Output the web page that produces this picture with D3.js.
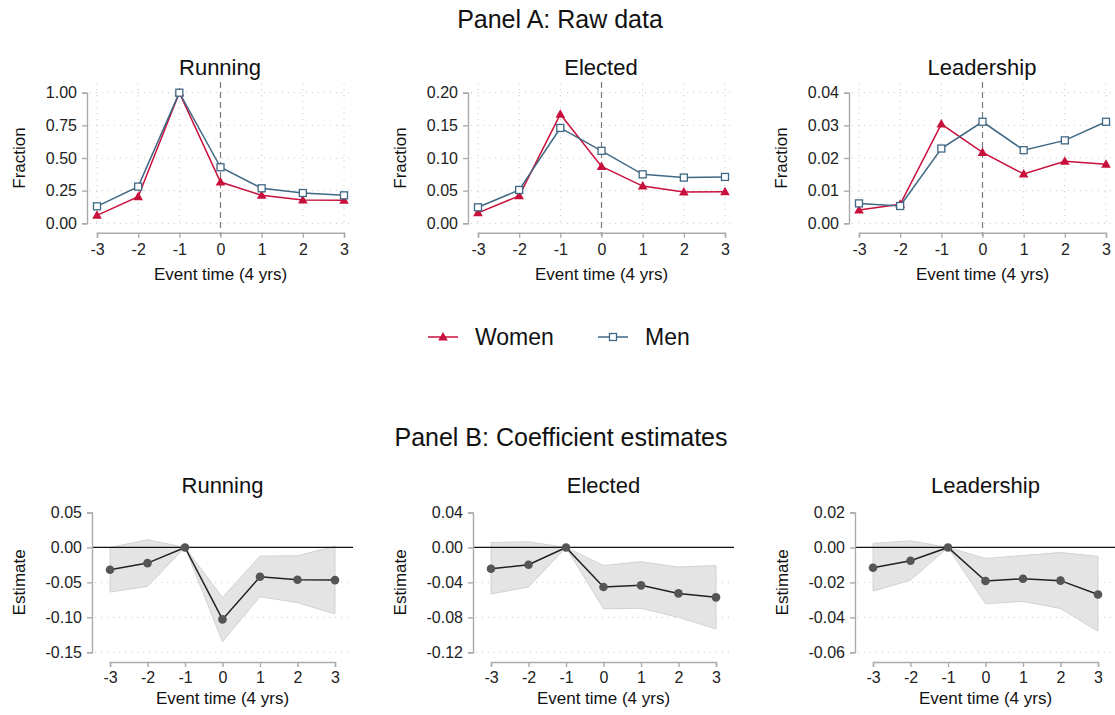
<!DOCTYPE html>
<html>
<head>
<meta charset="utf-8">
<script src="https://cdn.jsdelivr.net/npm/d3@7"></script>
<style>
  body { margin: 0; background: #fff; }
  svg { font-family: "Liberation Sans", Arial, sans-serif; }
  .axis path, .axis line { stroke: #ababab; stroke-width: 1.4; }
  .axis text { fill: #222; font-size: 16px; }
  .grid { stroke: #c8c8c8; stroke-width: 1; stroke-dasharray: 1,5; }
</style>
</head>
<body>
<div class="vis-holder"></div>
<script>
// event time categories
var eventTime = [-3, -2, -1, 0, 1, 2, 3];

// panel A raw data
var runWomen  = [0.061, 0.204, 1.000, 0.316, 0.214, 0.179, 0.176];
var runMen    = [0.130, 0.281, 1.000, 0.429, 0.268, 0.232, 0.214];
var elecWomen = [0.016, 0.042, 0.167, 0.087, 0.057, 0.048, 0.0485];
var elecMen   = [0.0245, 0.051, 0.146, 0.111, 0.075, 0.070, 0.071];
var leadWomen = [0.0041, 0.0058, 0.0304, 0.0217, 0.0151, 0.0190, 0.0181];
var leadMen   = [0.0061, 0.0053, 0.0229, 0.0311, 0.0224, 0.0254, 0.0311];

// panel B coefficient estimates with confidence bands
var runEst  = [-0.0319, -0.0224, 0, -0.1029, -0.0419, -0.0462, -0.0467];
var runLo   = [-0.0638, -0.0557, 0, -0.1348, -0.0705, -0.0790, -0.0952];
var runHi   = [0.0000, 0.0110, 0, -0.0714, -0.0124, -0.0119, 0.0019];
var elecEst = [-0.0244, -0.0198, 0, -0.0453, -0.0434, -0.0526, -0.0571];
var elecLo  = [-0.0533, -0.0453, 0, -0.0701, -0.0697, -0.0800, -0.0933];
var elecHi  = [0.0057, 0.0065, 0, -0.0206, -0.0164, -0.0225, -0.0206];
var leadEst = [-0.0116, -0.0076, 0, -0.0192, -0.0179, -0.0190, -0.0269];
var leadLo  = [-0.0250, -0.0187, 0, -0.0322, -0.0309, -0.0349, -0.0480];
var leadHi  = [0.0023, 0.0038, 0, -0.0063, -0.0046, -0.0029, -0.0051];

// tick labels
var runTicksA  = [0, 0.25, 0.5, 0.75, 1];
var elecTicksA = [0, 0.05, 0.1, 0.15, 0.2];
var leadTicksA = [0, 0.01, 0.02, 0.03, 0.04];
var runTicksB  = [-0.15, -0.1, -0.05, 0, 0.05];
var elecTicksB = [-0.12, -0.08, -0.04, 0, 0.04];
var leadTicksB = [-0.06, -0.04, -0.02, 0, 0.02];

var titles = ["Running", "Elected", "Leadership"];

var width = 1115;
var height = 715;

var women = "#c8103c";
var men = "#3f6884";

// hyphen minus like the original
var loc = d3.formatLocale({decimal: ".", thousands: ",", grouping: [3], currency: ["", ""], minus: "-"});
var f2 = loc.format(".2f");
var f0 = loc.format("d");

var svg = d3.select(".vis-holder")
      .append('svg')
      .attr('width', width)
      .attr('height', height);

svg.append("text")
    .attr("x", 560).attr("y", 28)
    .style("text-anchor", "middle").style("font-size", "25px").attr("fill", "#111")
    .text("Panel A: Raw data");

svg.append("text")
    .attr("x", 561).attr("y", 446)
    .style("text-anchor", "middle").style("font-size", "25px").attr("fill", "#111")
    .text("Panel B: Coefficient estimates");

var panelA = [
  {w: runWomen, m: runMen, ticks: runTicksA},
  {w: elecWomen, m: elecMen, ticks: elecTicksA},
  {w: leadWomen, m: leadMen, ticks: leadTicksA}
];
var axisXA = [87, 468, 849];

function triangle(g, x, y, color) {
  g.append("path")
    .attr("d", "M" + x + "," + (y - 5) + "L" + (x + 4.8) + "," + (y + 3.5) + "L" + (x - 4.8) + "," + (y + 3.5) + "Z")
    .attr("fill", color);
}
function square(g, x, y, color) {
  g.append("rect")
    .attr("x", x - 3.5).attr("y", y - 3.5)
    .attr("width", 7).attr("height", 7)
    .attr("fill", "#fff").attr("stroke", color).attr("stroke-width", 1.3);
}

panelA.forEach(function(p, i) {
  var ax = axisXA[i];
  var g = svg.append("g");
  var xScale = d3.scaleLinear().domain([-3, 3]).range([ax + 10, ax + 257]);
  var yScale = d3.scaleLinear().domain([0, d3.max(p.ticks)]).range([223.3, 92.7]);

  // grid
  g.selectAll(".hgrid").data(p.ticks).enter().append("line")
    .attr("class", "grid")
    .attr("x1", ax + 3).attr("x2", ax + 262)
    .attr("y1", function(d){ return yScale(d); })
    .attr("y2", function(d){ return yScale(d); });
  g.selectAll(".vgrid").data(eventTime.filter(function(d){ return d !== 0; })).enter().append("line")
    .attr("class", "grid")
    .attr("x1", function(d){ return xScale(d); })
    .attr("x2", function(d){ return xScale(d); })
    .attr("y1", 83).attr("y2", 224);

  // event line
  g.append("line")
    .attr("x1", xScale(0)).attr("x2", xScale(0))
    .attr("y1", 82).attr("y2", 236)
    .attr("stroke", "#7a7a7a").attr("stroke-width", 1.2)
    .attr("stroke-dasharray", "6,4");

  var yAxis = d3.axisLeft(yScale).tickValues(p.ticks).tickFormat(f2)
      .tickSizeOuter(0).tickSize(5).tickPadding(5);
  g.append('g').attr('class', 'axis')
    .attr('transform', 'translate(' + ax + ',0)')
    .call(yAxis);

  var xAxis = d3.axisBottom(xScale).tickValues(eventTime).tickFormat(f0)
      .tickSizeOuter(0).tickSize(5).tickPadding(6);
  g.append('g').attr('class', 'axis')
    .attr('transform', 'translate(0,232.7)')
    .call(xAxis);

  var line = d3.line()
      .x(function(d, j){ return xScale(eventTime[j]); })
      .y(function(d){ return yScale(d); });

  g.append("path").attr("d", line(p.w))
    .attr("fill", "none").attr("stroke", women).attr("stroke-width", 1.5);
  p.w.forEach(function(v, j){ triangle(g, xScale(eventTime[j]), yScale(v), women); });

  g.append("path").attr("d", line(p.m))
    .attr("fill", "none").attr("stroke", men).attr("stroke-width", 1.5);
  p.m.forEach(function(v, j){ square(g, xScale(eventTime[j]), yScale(v), men); });

  g.append("text")
    .attr("x", ax + 133).attr("y", 75)
    .style("text-anchor", "middle").style("font-size", "22px").attr("fill", "#111")
    .text(titles[i]);

  g.append("text")
    .attr("x", ax + 133.5).attr("y", 280)
    .style("text-anchor", "middle").style("font-size", "17px").attr("fill", "#111")
    .text("Event time (4 yrs)");

  g.append("text")
    .attr("transform", "translate(" + (ax - 62) + ",158) rotate(-90)")
    .style("text-anchor", "middle").style("font-size", "17px").attr("fill", "#111")
    .text("Fraction");
});

// legend
var lg = svg.append("g");
lg.append("line").attr("x1", 428).attr("x2", 458).attr("y1", 337).attr("y2", 337)
  .attr("stroke", women).attr("stroke-width", 1.5);
triangle(lg, 443, 337, women);
lg.append("text").attr("x", 475).attr("y", 345).style("font-size", "23px").attr("fill", "#111").text("Women");
lg.append("line").attr("x1", 598).attr("x2", 628).attr("y1", 337).attr("y2", 337)
  .attr("stroke", men).attr("stroke-width", 1.5);
square(lg, 613, 337, men);
lg.append("text").attr("x", 645).attr("y", 345).style("font-size", "23px").attr("fill", "#111").text("Men");

// panel B
var panelB = [
  {est: runEst, lo: runLo, hi: runHi, ticks: runTicksB},
  {est: elecEst, lo: elecLo, hi: elecHi, ticks: elecTicksB},
  {est: leadEst, lo: leadLo, hi: leadHi, ticks: leadTicksB}
];
var axisXB = [92, 473, 855];

panelB.forEach(function(p, i) {
  var ax = axisXB[i];
  var g = svg.append("g");
  var xScale = d3.scaleLinear().domain([-3, 3]).range([ax + 18, ax + 243]);
  var yScale = d3.scaleLinear().domain([d3.min(p.ticks), d3.max(p.ticks)]).range([652.3, 512.5]);

  g.selectAll(".hgrid").data(p.ticks.filter(function(d){ return d < 0; })).enter().append("line")
    .attr("class", "grid")
    .attr("x1", ax + 3).attr("x2", ax + 261)
    .attr("y1", function(d){ return yScale(d); })
    .attr("y2", function(d){ return yScale(d); });

  var area = d3.area()
      .x(function(d, j){ return xScale(eventTime[j]); })
      .y0(function(d, j){ return yScale(p.lo[j]); })
      .y1(function(d, j){ return yScale(p.hi[j]); });
  g.append("path").attr("d", area(p.est))
    .attr("fill", "#e4e4e4").attr("stroke", "#d2d2d2").attr("stroke-width", 1);

  g.append("line")
    .attr("x1", ax).attr("x2", ax + 261)
    .attr("y1", yScale(0)).attr("y2", yScale(0))
    .attr("stroke", "#111").attr("stroke-width", 1.3);

  var yAxis = d3.axisLeft(yScale).tickValues(p.ticks).tickFormat(f2)
      .tickSizeOuter(0).tickSize(5).tickPadding(5);
  g.append('g').attr('class', 'axis')
    .attr('transform', 'translate(' + ax + ',0)')
    .call(yAxis);

  var xAxis = d3.axisBottom(xScale).tickValues(eventTime).tickFormat(f0)
      .tickSizeOuter(0).tickSize(5).tickPadding(4.5);
  g.append('g').attr('class', 'axis')
    .attr('transform', 'translate(0,662)')
    .call(xAxis);

  var line = d3.line()
      .x(function(d, j){ return xScale(eventTime[j]); })
      .y(function(d){ return yScale(d); });
  g.append("path").attr("d", line(p.est))
    .attr("fill", "none").attr("stroke", "#222").attr("stroke-width", 1.5);
  g.selectAll(".pt").data(p.est).enter().append("circle")
    .attr("cx", function(d, j){ return xScale(eventTime[j]); })
    .attr("cy", function(d){ return yScale(d); })
    .attr("r", 4.3)
    .attr("fill", "#555");

  g.append("text")
    .attr("x", ax + 130.5).attr("y", 493)
    .style("text-anchor", "middle").style("font-size", "22px").attr("fill", "#111")
    .text(titles[i]);

  g.append("text")
    .attr("x", ax + 130.5).attr("y", 704)
    .style("text-anchor", "middle").style("font-size", "17px").attr("fill", "#111")
    .text("Event time (4 yrs)");

  g.append("text")
    .attr("transform", "translate(" + (ax - 67) + ",582.4) rotate(-90)")
    .style("text-anchor", "middle").style("font-size", "17px").attr("fill", "#111")
    .text("Estimate");
});
</script>
</body>
</html>
